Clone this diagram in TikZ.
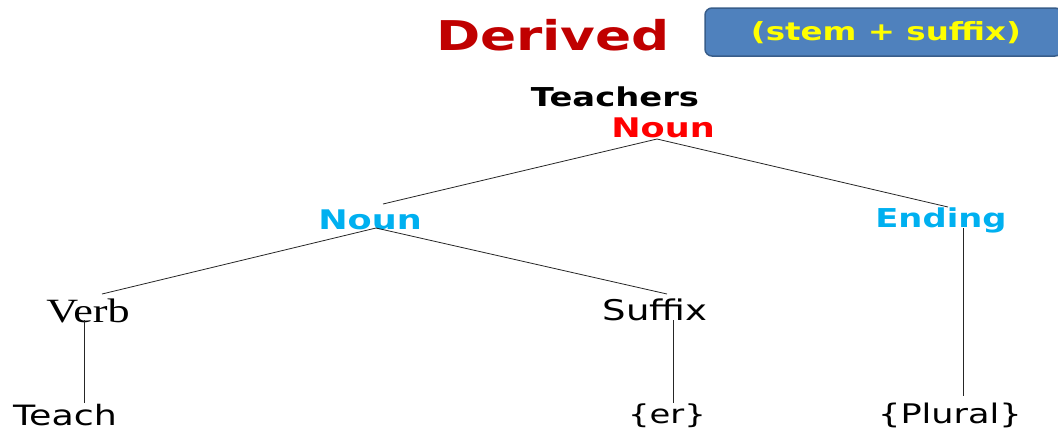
\documentclass[tikz,border=0pt]{standalone}
\usepackage{fontspec}
\newfontfamily\vbold[FakeStretch=1.3]{DejaVu Sans Bold}
\newfontfamily\vreg[FakeStretch=1.3]{DejaVu Sans}
\newfontfamily\tser[FakeStretch=1.3]{Liberation Serif}
\definecolor{dred}{HTML}{C00000}
\definecolor{bred}{HTML}{FF0000}
\definecolor{cyanb}{HTML}{00B0F0}
\definecolor{boxfill}{HTML}{4F81BD}
\definecolor{boxline}{HTML}{385D8A}
\definecolor{yel}{HTML}{FFFF00}
\tikzset{
  lbl/.style={inner sep=0pt, anchor=center},
  boldlbl/.style={lbl, font=\vbold\fontsize{26}{30}\selectfont},
  reglbl/.style={lbl, font=\vreg\fontsize{26}{30}\selectfont},
  branch/.style={draw=black!85, line width=0.8pt},
}
\begin{document}
\begin{tikzpicture}[x=1pt,y=-1pt]
\useasboundingbox (0,0) rectangle (1058,432);
\clip (0,0) rectangle (1058,432);
% title
\node[lbl, font=\vbold\fontsize{41}{46}\selectfont, text=dred] (derived) at (553,35) {Derived};
\node[draw=boxline, line width=1.5pt, fill=boxfill, rounded corners=7pt,
      minimum width=357pt, minimum height=48pt, inner sep=0pt] (box) at (883.5,32) {};
\node[boldlbl, font=\vbold\fontsize{25}{30}\selectfont, text=yel] (boxtxt) at (886,33) {(stem + suffix)};
% tree labels
\node[boldlbl] (teachers) at (615,97) {Teachers};
\node[boldlbl, font=\vbold\fontsize{27}{30}\selectfont, text=bred] (root) at (663,128) {Noun};
\node[boldlbl, font=\vbold\fontsize{27}{30}\selectfont, text=cyanb] (noun) at (370,220) {Noun};
\node[boldlbl, text=cyanb] (ending) at (941,220) {Ending};
\node[lbl, font=\tser\fontsize{34}{38}\selectfont] (verb) at (88,311) {Verb};
\node[reglbl, font=\vreg\fontsize{28.5}{32}\selectfont] (suffix) at (655,310) {Suffix};
\node[reglbl, font=\vreg\fontsize{28}{32}\selectfont] (teach) at (65,415) {Teach};
\node[reglbl] (er) at (667,416) {\{er\}};
\node[reglbl, font=\vreg\fontsize{27}{30}\selectfont] (plural) at (950,415) {\{Plural\}};
% connector end points
\coordinate (rootS) at (657,139);
\coordinate (nounN) at (383,204);
\coordinate (endingN) at (948,207);
\coordinate (nounS) at (376,228);
\coordinate (verbN) at (102,294);
\coordinate (suffixN) at (667,294);
\coordinate (endingS) at (963,228);
\coordinate (pluralN) at (963,396);
\coordinate (verbS) at (84,320);
\coordinate (teachN) at (84,403);
\coordinate (suffixS) at (673,320);
\coordinate (erN) at (673,403);
% connectors
\draw[branch] (rootS) -- (nounN);
\draw[branch] (rootS) -- (endingN);
\draw[branch] (nounS) -- (verbN);
\draw[branch] (nounS) -- (suffixN);
\draw[branch] (endingS) -- (pluralN);
\draw[branch] (verbS) -- (teachN);
\draw[branch] (suffixS) -- (erN);
\end{tikzpicture}
\end{document}
